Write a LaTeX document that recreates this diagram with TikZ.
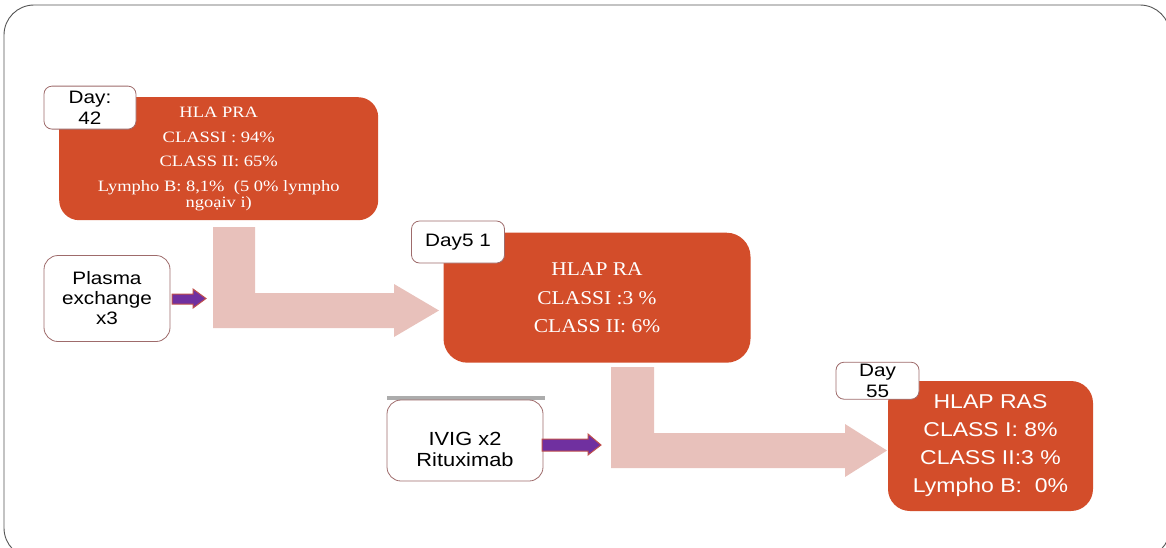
\documentclass[tikz,border=0pt]{standalone}
\usepackage{fontspec}
\setmainfont{Liberation Serif}
\newfontfamily\boxserif[FakeStretch=1.17]{Liberation Serif}
\newfontfamily\boxserifB[FakeStretch=1.1]{Liberation Serif}
\newfontfamily\boxsans[FakeStretch=1.15]{Liberation Sans}
\definecolor{obox}{HTML}{D34D2A}
\definecolor{pinkarr}{HTML}{E8C1BB}
\definecolor{purparr}{HTML}{7030A0}
\definecolor{purpedge}{HTML}{C0504D}
\definecolor{lbledge}{HTML}{9E6B6B}
\definecolor{frameclr}{HTML}{555555}
\tikzset{
  orangebox/.style={fill=obox, draw=none, text=white, align=center, inner sep=0pt},
  daybox/.style={fill=white, draw=lbledge, line width=0.8pt, rounded corners=8pt, inner sep=0pt, align=center,
    font=\boxsans\fontsize{18}{21}\selectfont},
  whitebox/.style={fill=white, draw=lbledge, line width=0.8pt, rounded corners=14pt, inner sep=0pt},
  pinkblock/.style={fill=pinkarr, draw=none},
  purpblock/.style={fill=purparr, draw=purpedge, line width=1pt, line join=miter},
  plaintext/.style={inner sep=0pt, align=center}
}
\begin{document}
\begin{tikzpicture}[x=1pt,y=-1pt]
\useasboundingbox (0,0) rectangle (1166,547);
% outer frame
\draw[frameclr, line width=0.9pt, rounded corners=30pt] (4,5) rectangle (1170,558);

% pink block arrows
\fill[pinkblock] (213,227) -- (255,227) -- (255,293) -- (394,293) -- (394,284) -- (439,310.5)
  -- (394,337) -- (394,328) -- (213,328) -- cycle;
\fill[pinkblock] (611,367) -- (654,367) -- (654,433) -- (845,433) -- (845,424) -- (887,450.5)
  -- (845,477) -- (845,468) -- (611,468) -- cycle;

% orange boxes
\node[orangebox, rounded corners=20pt, minimum width=319pt, minimum height=123pt,
  font=\boxserif\fontsize{15.8}{16}\selectfont] (b1) at (218.7,158.7)
  {HLA PRA\\[9pt]CLASSI : 94\%\\[8pt]CLASS II: 65\%\\[9pt]Lympho B: 8,1\%\ \ (5 0\% lympho\\ngoạiv i)};
\node[orangebox, rounded corners=24pt, minimum width=307pt, minimum height=130pt,
  font=\boxserifB\fontsize{19.5}{28.7}\selectfont] (b2) at (597,297.7)
  {HLAP RA\\CLASSI :3 \%\\CLASS II: 6\%};
\node[orangebox, rounded corners=22pt, minimum width=205pt, minimum height=130pt,
  font=\boxsans\fontsize{20}{28}\selectfont] (b3) at (990.5,446)
  {HLAP RAS\\ CLASS I: 8\%\\CLASS II:3 \%\\Lympho B:\ \ 0\%};

% day labels
\node[daybox, minimum width=92pt, minimum height=43pt] (d1) at (90,107.6) {Day:\\42};
\node[daybox, minimum width=93pt, minimum height=42pt] (d2) at (458,242) {Day5 1};
\node[daybox, minimum width=83pt, minimum height=37pt] (d3) at (877.5,380.7) {Day\\55};

% treatment boxes
\node[whitebox, minimum width=126pt, minimum height=86pt] (pe) at (107,298.5) {};
\node[plaintext, font=\boxsans\fontsize{18}{20}\selectfont] (pet) at (pe.center) {Plasma\\exchange\\x3};
\fill[gray!65] (387,395.5) rectangle (545,399.5);
\node[whitebox, minimum width=156pt, minimum height=81pt] (iv) at (465,440.5) {};
\node[plaintext, font=\boxsans\fontsize{19}{21}\selectfont] (ivt) at (465,449) {IVIG x2\\Rituximab};

% purple arrows
\draw[purpblock] (172,294) -- (193,294) -- (193,289) -- (206,298.5) -- (193,308) -- (193,304) -- (172,304) -- cycle;
\draw[purpblock] (542,439) -- (588,439) -- (588,434) -- (601,445) -- (588,455) -- (588,451) -- (542,451) -- cycle;
\end{tikzpicture}
\end{document}
